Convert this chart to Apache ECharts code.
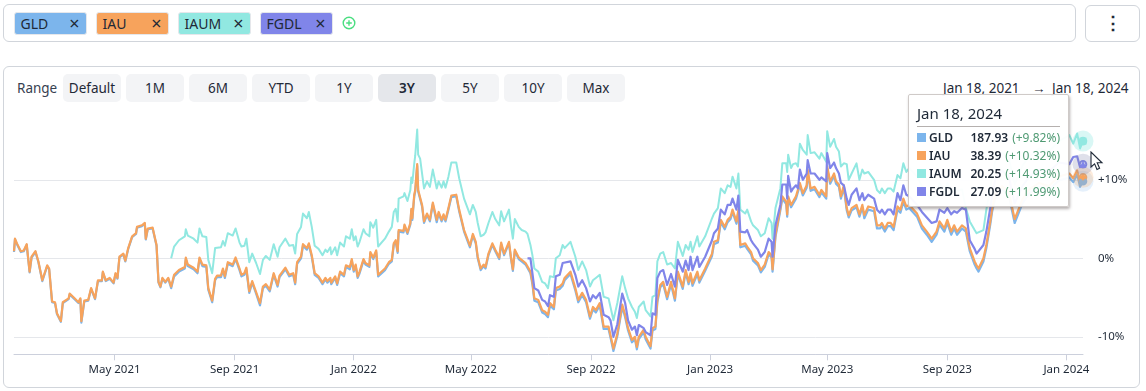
<!DOCTYPE html>
<html>
<head>
<meta charset="utf-8">
<script src="https://cdn.jsdelivr.net/npm/echarts@6/dist/echarts.min.js"></script>
<style>
  html, body { margin: 0; padding: 0; background: #fff; width: 1146px; height: 391px; overflow: hidden; }
  body { font-family: "Noto Sans", sans-serif; color: #1f2937; position: relative; }
  .box { position: absolute; box-sizing: border-box; border: 1px solid #d1d5db; border-radius: 6px; background: #fff; }
  .tag { position: absolute; top: 12px; width: 73px; height: 23px; box-sizing: border-box; border-radius: 3px; font-size: 14px; line-height: 22px; padding-left: 6px; color: #1f2937; border: 1px solid #e5e7eb; }
  .tag span { position: absolute; right: 6px; top: 0; font-size: 18px; line-height: 21px; }
  .btn { position: absolute; top: 74px; width: 58px; height: 28px; border-radius: 5px; background: #f3f4f6; font-size: 13.5px; line-height: 28px; text-align: center; color: #1f2937; }
  .btn.on { background: #e5e7eb; font-weight: 600; }
  #range { position: absolute; left: 17px; top: 79px; font-size: 13.5px; color: #374151; line-height: 18px; }
  .rangeDate { position: absolute; top: 79px; font-size: 13.5px; line-height: 18px; color: #1f2937; white-space: nowrap; }
  #main { position: absolute; left: 0; top: 0; width: 1146px; height: 391px; }
  #cursor { position: absolute; left: 1090px; top: 151px; z-index: 5; }
</style>
</head>
<body>
<div class="box" style="left:3px;top:4px;width:1073px;height:38px;"></div>
<div class="box" style="left:1085px;top:5px;width:55px;height:37px;text-align:center;font-size:18px;line-height:33px;font-weight:700;">⋮</div>
<div class="box" style="left:3px;top:66px;width:1137px;height:322px;"></div>
<div id="tags"></div>
<svg style="position:absolute;left:342px;top:16px;" width="14" height="14" viewBox="0 0 14 14">
  <circle cx="7" cy="7" r="5.8" fill="none" stroke="#4ade80" stroke-width="1.4"/>
  <path d="M7 4.2V9.8M4.2 7H9.8" stroke="#4ade80" stroke-width="1.4"/>
</svg>
<div id="range">Range</div>
<div id="buttons"></div>
<div class="rangeDate" style="left:943px;">Jan 18, 2021</div>
<div class="rangeDate" style="left:1032px;">→</div>
<div class="rangeDate" style="left:1052px;">Jan 18, 2024</div>
<div id="main"></div>
<svg id="cursor" width="14" height="20" viewBox="0 0 14 20">
  <path d="M1 1V16L4.6 12.8L7 18.4L9.6 17.2L7.2 11.8H12Z" fill="#fff" stroke="#1f2937" stroke-width="1.1"/>
</svg>
<script>
var tickers = ["GLD", "IAU", "IAUM", "FGDL"];
var colors = ["#7cb5ec", "#f7a35c", "#91e8e1", "#8085e9"];
var lastPrices = ["187.93", "38.39", "20.25", "27.09"];
var lastChanges = ["+9.82%", "+10.32%", "+14.93%", "+11.99%"];
var rangeButtons = ["Default", "1M", "6M", "YTD", "1Y", "3Y", "5Y", "10Y", "Max"];
var activeRange = "3Y";

var startDate = "2021-01-18";
var xTickDates = ["2021-05-01", "2021-09-01", "2022-01-01", "2022-05-01", "2022-09-01", "2023-01-01", "2023-05-01", "2023-09-01", "2024-01-01"];
var xTickLabels = ["May 2021", "Sep 2021", "Jan 2022", "May 2022", "Sep 2022", "Jan 2023", "May 2023", "Sep 2023", "Jan 2024"];
var yTicks = [-10, 0, 10];

// days after startDate for each reading
var days = [
  0,1,3,7,10,13,16,18,22,25,
  29,34,36,39,42,44,48,50,56,57,
  62,66,68,69,72,76,79,83,86,90,
  91,94,98,102,104,106,108,112,114,117,
  121,125,126,131,134,135,137,139,142,146,
  148,150,152,155,158,161,164,169,175,176,
  178,184,188,190,193,197,199,203,206,208,
  212,214,216,219,224,227,231,233,236,238,
  241,244,248,252,255,258,262,266,270,272,
  278,282,286,288,290,294,296,298,300,302,
  305,308,312,316,319,321,324,325,329,331,
  334,338,340,344,346,348,350,352,354,358,
  360,364,365,368,371,373,375,380,384,387,
  389,391,393,394,399,400,403,406,407,408,
  410,411,413,414,416,418,420,423,426,429,
  433,435,438,440,442,445,448,453,456,461,
  463,467,470,473,475,478,481,483,486,490,
  493,497,499,502,507,509,511,513,517,520,
  524,526,529,531,533,537,541,544,547,549,
  553,555,559,562,564,570,575,578,582,586,
  590,593,596,600,604,609,611,614,618,623,
  626,629,633,636,638,640,645,647,652,654,
  657,659,662,665,669,673,677,680,685,688,
  691,693,695,700,702,708,715,717,721,724,
  728,731,734,736,740,742,744,749,751,755,
  757,762,765,769,773,776,777,780,785,787,
  791,792,793,796,798,801,803,805,808,812,
  813,816,820,825,827,832,833,836,838,840,
  842,845,847,850,853,855,858,863,866,869,
  871,875,877,881,884,887,889,892,895,898,
  901,905,908,911,914,917,925,930,935,940,
  945,948,953,956,960,963,966,971,975,979,
  984,986,988,993,996,1000,1002,1005,1012,1019,
  1025,1033,1040,1050,1060,1070,1081,1085,1089,1092,
  1095
];

var gld = [
  0.8,2.4,1.8,0.8,0.9,1.7,-1.8,0.1,0.8,-0.5,
  -2.9,-1.0,-1.4,-5.6,-5.7,-7.1,-8.1,-5.7,-5.2,-4.6,
  -5.2,-5.7,-5.2,-8.2,-5.5,-5.4,-3.9,-5.2,-2.9,-2.9,
  -1.8,-2.9,-2.6,-3.2,-2.0,-2.6,0.1,0.5,-0.4,1.2,
  2.7,3.1,3.9,4.1,4.4,2.4,3.7,3.5,3.8,1.6,
  -3.1,-3.7,-2.6,-3.1,-2.6,-3.8,-2.3,-1.7,-1.3,-0.1,
  -1.0,-1.4,-1.9,-0.1,-1.0,-1.1,-4.0,-5.6,-2.8,-2.4,
  -2.4,-1.5,-2.5,-0.7,-1.0,-0.1,-1.5,-2.3,-2.1,-1.4,
  -4.4,-3.1,-4.5,-6.0,-3.8,-3.5,-4.2,-2.1,-3.6,-2.4,
  -1.4,-2.3,-2.1,-3.3,-0.7,0,1.6,1.8,1.1,1.7,
  0.2,-2.1,-2.5,-3.3,-2.7,-3.1,-2.7,-3.3,-2.5,-3.4,
  -1.9,-2.3,-1.1,-1.4,-0.3,-1.7,-1.0,-2.5,-1.9,-0.3,
  -0.8,-1.1,0.6,-0.1,0.8,-2.3,-2.4,-1.5,-0.7,-0.4,
  1.7,2.1,0.7,3.4,3.3,4.1,3.1,4.3,6.1,4.9,
  7.9,8.5,11.8,8.5,8.3,6.6,4.5,5.5,4.7,6.9,
  4.6,5.7,4.7,5.3,4.7,6.2,7.8,7.9,6.0,3.4,
  3.3,1.4,2.9,1.9,0,-1.5,-1.0,-1.3,0.4,1.7,
  0.9,-0.1,1.8,0.4,1.9,0,-1.6,0.9,-0.1,-0.4,
  -0.8,-1.0,-1.9,-3.3,-5.4,-5.6,-6.9,-7.1,-7.5,-6.0,
  -6.5,-4.1,-3.9,-3.5,-2.8,-2.0,-4.1,-5.6,-4.7,-5.6,
  -7.7,-6.5,-6.9,-6.0,-9.0,-9.0,-10.1,-11.8,-9.9,-6.2,
  -7.5,-9.2,-10.7,-10.3,-11.6,-10.3,-9.4,-10.3,-11.5,-9.2,
  -9.0,-5.6,-3.7,-3.3,-5.2,-3.3,-5.4,-2.0,-3.9,-1.8,
  -3.3,-2.2,-3.5,-2.0,-3.1,-1.6,0.3,1.8,2.0,4.6,
  3.7,4.6,5.0,5.9,4.4,5.9,1.4,1.6,1.2,0.5,
  -0.3,-0.9,-1.8,-1.1,0.5,0.1,-1.7,2.7,6.1,7.6,
  6.9,5.3,7.6,6.5,6.5,7.6,7.6,9.3,8.0,9.0,
  11.0,8.6,8.8,7.8,8.4,7.6,11.4,9.5,9.7,10.5,
  9.5,9.1,7.6,9.0,6.1,5.2,6.1,6.5,5.3,6.5,
  5.1,6.2,6.2,6.0,3.8,3.8,4.1,3.4,4.1,4.1,
  3.6,6.2,5.8,7.2,6.2,6.4,5.3,3.8,3.0,2.1,
  3.0,4.3,3.4,4.5,3.0,3.8,3.0,3.8,3.4,0.9,
  -0.8,-1.3,-1.7,-0.4,1.3,4.3,6.0,7.6,8.8,8.0,
  4.5,7.0,8.3,9.1,8.7,9.9,10.3,9.7,10.7,9.1,
  9.82
];

var iau = [
  0.9,2.5,1.9,0.9,1.0,1.8,-1.7,0.2,0.9,-0.4,
  -2.8,-0.9,-1.3,-5.5,-5.6,-7.0,-8.0,-5.6,-5.1,-4.5,
  -5.1,-5.6,-5.1,-8.0,-5.4,-5.3,-3.8,-5.1,-2.8,-2.8,
  -1.7,-2.8,-2.5,-3.1,-1.9,-2.5,0.2,0.6,-0.3,1.3,
  2.8,3.2,4.0,4.2,4.5,2.5,3.8,3.6,3.9,1.7,
  -3.0,-3.6,-2.5,-3.0,-2.5,-3.6,-2.1,-1.5,-1.1,0.1,
  -0.8,-1.2,-1.7,0.1,-0.8,-0.9,-3.8,-5.4,-2.6,-2.2,
  -2.2,-1.3,-2.3,-0.5,-0.8,0.1,-1.3,-2.1,-1.9,-1.2,
  -4.2,-2.9,-4.3,-5.7,-3.6,-3.3,-4.0,-1.9,-3.4,-2.2,
  -1.2,-2.1,-1.9,-3.1,-0.5,0.2,1.8,2.0,1.3,1.9,
  0.4,-1.9,-2.3,-3.1,-2.5,-2.9,-2.5,-3.1,-2.3,-3.2,
  -1.7,-2.1,-0.9,-1.1,-0.1,-1.5,-0.8,-2.3,-1.7,-0.1,
  -0.6,-0.9,0.8,0.1,1.0,-2.1,-2.2,-1.3,-0.5,-0.2,
  1.9,2.3,0.9,3.6,3.5,4.3,3.3,4.5,6.3,5.1,
  8.1,8.7,12.0,8.7,8.5,6.8,4.7,5.7,4.9,7.1,
  4.9,5.9,4.9,5.6,4.9,6.4,8.0,8.1,6.2,3.6,
  3.5,1.6,3.1,2.1,0.2,-1.3,-0.8,-1.1,0.6,1.9,
  1.1,0.1,2.0,0.6,2.1,0.2,-1.4,1.1,0.1,-0.2,
  -0.6,-0.8,-1.7,-3.0,-5.1,-5.3,-6.6,-6.8,-7.2,-5.7,
  -6.2,-3.8,-3.6,-3.2,-2.5,-1.7,-3.8,-5.3,-4.4,-5.3,
  -7.4,-6.2,-6.6,-5.7,-8.7,-8.7,-9.8,-11.5,-9.6,-5.9,
  -7.2,-8.9,-10.4,-10.0,-11.3,-10.0,-9.1,-10.0,-11.2,-8.9,
  -8.7,-5.3,-3.4,-3.0,-4.9,-3.0,-5.1,-1.7,-3.6,-1.5,
  -3.0,-1.9,-3.2,-1.7,-2.8,-1.3,0.6,2.1,2.3,4.9,
  4.0,4.9,5.3,6.2,4.7,6.2,1.7,1.9,1.5,0.8,
  0,-0.6,-1.5,-0.8,0.8,0.4,-1.4,3.0,6.4,7.9,
  7.2,5.6,7.9,6.8,6.8,7.9,7.9,9.6,8.3,9.3,
  11.3,8.9,9.1,8.1,8.7,7.9,11.7,9.8,10.0,10.8,
  9.8,9.4,7.9,9.3,6.4,5.5,6.4,6.8,5.6,6.8,
  5.5,6.6,6.6,6.4,4.2,4.2,4.5,3.8,4.5,4.5,
  4.0,6.6,6.2,7.6,6.6,6.8,5.7,4.2,3.4,2.5,
  3.4,4.7,3.8,4.9,3.4,4.2,3.4,4.2,3.8,1.3,
  -0.4,-0.9,-1.3,0,1.7,4.7,6.4,8.0,9.2,8.4,
  5.0,7.5,8.8,9.6,9.2,10.4,10.8,10.2,11.2,9.6,
  10.32
];

var iaum = [
  null,null,null,null,null,null,null,null,null,null,
  null,null,null,null,null,null,null,null,null,null,
  null,null,null,null,null,null,null,null,null,null,
  null,null,null,null,null,null,null,null,null,null,
  null,null,null,null,null,null,null,null,null,null,
  null,null,null,null,null,0,1.5,2.3,2.8,3.7,
  2.9,2.5,2.0,3.8,2.8,2.7,-0.2,-1.9,1.3,1.5,
  1.4,2.2,1.6,3.2,2.9,3.8,2.0,1.5,1.6,2.5,
  -0.5,0.6,-0.6,-2.0,-0.2,0.3,-0.2,1.8,0.2,1.4,
  2.5,1.6,1.7,0.6,3.1,4.0,5.7,5.9,5.1,5.9,
  4.0,1.6,1.2,0.4,1.1,0.8,1.4,0.5,1.4,0.4,
  2.0,1.5,2.8,2.5,3.7,2.3,2.8,1.5,2.1,3.7,
  3.2,2.8,4.6,3.9,4.9,1.5,1.6,2.5,3.4,4.0,
  5.9,6.3,4.7,7.6,7.9,8.3,7.3,8.7,10.3,9.6,
  12.1,13.1,16.4,13.2,12.7,10.8,8.9,9.8,9.1,11.3,
  8.9,9.8,9.0,9.8,9.0,10.4,12.2,12.2,10.2,7.6,
  7.4,5.6,6.8,5.9,4.5,2.8,3.0,3.3,4.5,5.9,
  5.0,4.2,6.0,4.7,6.2,4.2,2.5,5.0,4.0,3.6,
  3.4,3.1,1.7,0.4,-1.3,-1.7,-3.0,-3.2,-3.8,-2.3,
  -2.4,0,0.4,1.7,1.3,2.1,0.2,-1.5,-0.4,-1.5,
  -3.6,-2.8,-2.5,-2.1,-4.9,-5.1,-6.2,-7.9,-5.7,-2.3,
  -3.8,-5.1,-6.2,-6.8,-7.6,-6.2,-5.5,-6.6,-7.4,-4.9,
  -4.7,-0.4,0.6,0.8,-0.8,-0.6,-1.3,2.1,0.3,1.7,
  1.1,2.1,0.8,2.8,1.5,2.8,5.1,5.7,6.4,8.9,
  8.3,9.3,9.1,10.4,8.9,10.8,6.2,5.7,6.2,4.7,
  4.2,3.6,2.8,3.2,5.1,4.5,2.5,6.4,8.9,12.1,
  12.1,11.0,13.2,11.5,12.0,12.1,11.7,14.6,13.8,13.2,
  15.7,13.4,13.5,12.7,13.4,12.3,16.2,14.2,14.2,15.2,
  14.2,13.6,11.7,12.1,12.0,10.0,10.8,12.1,10.0,11.3,
  10.8,11.0,10.8,10.0,8.7,8.3,8.9,8.3,8.9,8.9,
  8.5,10.6,10.2,12.1,11.0,11.5,10.4,9.2,8.2,7.4,
  8.2,9.6,8.6,9.6,8.4,9.0,8.5,8.8,6.4,4.7,
  3.6,3.2,3.0,3.6,6.2,9.0,10.4,12.3,13.5,12.8,
  9.4,11.8,13.0,14.0,13.6,14.9,15.7,14.6,15.9,14.0,
  14.93
];

var fgdl = [
  null,null,null,null,null,null,null,null,null,null,
  null,null,null,null,null,null,null,null,null,null,
  null,null,null,null,null,null,null,null,null,null,
  null,null,null,null,null,null,null,null,null,null,
  null,null,null,null,null,null,null,null,null,null,
  null,null,null,null,null,null,null,null,null,null,
  null,null,null,null,null,null,null,null,null,null,
  null,null,null,null,null,null,null,null,null,null,
  null,null,null,null,null,null,null,null,null,null,
  null,null,null,null,null,null,null,null,null,null,
  null,null,null,null,null,null,null,null,null,null,
  null,null,null,null,null,null,null,null,null,null,
  null,null,null,null,null,null,null,null,null,null,
  null,null,null,null,null,null,null,null,null,null,
  null,null,null,null,null,null,null,null,null,null,
  null,null,null,null,null,null,null,null,null,null,
  null,null,null,null,null,null,null,null,null,null,
  null,null,null,null,null,null,null,null,null,null,
  null,0,0,-1.9,-3.8,-4.1,-5.3,-5.5,-6.1,-4.7,
  -4.9,-2.3,-2.1,-0.6,-0.6,-0.4,-2.1,-3.6,-2.8,-3.8,
  -5.5,-4.7,-5.1,-4.4,-7.2,-7.5,-7.9,-10.0,-8.4,-4.5,
  -5.7,-7.9,-9.1,-8.7,-9.8,-8.5,-8.9,-9.4,-9.8,-7.0,
  -7.2,-2.5,-1.7,-1.5,-3.4,-2.0,-3.6,-0.2,-1.7,-0.3,
  -1.5,0.2,-1.5,0.2,-1.1,0.2,2.3,3.2,3.8,6.2,
  5.6,6.8,6.8,7.6,6.2,8.0,3.4,3.3,3.6,2.3,
  1.9,1.1,0.2,0.8,2.5,2.1,0.2,4.2,6.8,9.4,
  9.4,7.6,10.5,8.5,8.9,9.3,8.9,11.3,10.0,10.8,
  12.5,10.8,10.8,10.0,10.3,9.8,13.4,11.5,11.5,12.2,
  11.5,10.8,9.6,9.3,7.6,6.8,8.1,8.9,7.4,8.3,
  7.4,8.1,8.3,7.6,6.2,5.8,6.2,5.6,6.2,6.2,
  5.6,8.3,7.4,9.3,8.1,7.9,6.8,5.9,5.2,4.5,
  4.7,6.2,5.8,6.4,5.6,6.0,5.8,6.4,6.2,2.3,
  1.2,0.6,0.8,1.7,3.4,6.4,8.0,10.0,11.2,10.4,
  7.0,9.2,10.4,11.3,11.0,12.2,12.0,12.9,13.0,11.6,
  11.99
];

// page chrome above the chart
var tagsHtml = "";
tickers.forEach(function(t, i) {
  tagsHtml += '<div class="tag" style="left:' + (13.5 + i * 82) + 'px;background:' + colors[i] + ';">' + t + "<span>×</span></div>";
});
document.getElementById("tags").innerHTML = tagsHtml;

var buttonsHtml = "";
rangeButtons.forEach(function(b, i) {
  buttonsHtml += '<div class="btn' + (b === activeRange ? " on" : "") + '" style="left:' + (63 + i * 63) + 'px;">' + b + "</div>";
});
document.getElementById("buttons").innerHTML = buttonsHtml;

var dayMs = 86400000;
var startMs = Date.parse(startDate + "T00:00:00Z");
var xTickValues = xTickDates.map(function(d) { return Date.parse(d + "T00:00:00Z"); });
var seriesValues = [gld, iau, iaum, fgdl];
var widths = [2.2, 2.2, 2, 2.2];
var endSymbols = ["circle", "diamond", "rect", "triangle"];
var haloColors = ["rgba(124,181,236,0.2)", "rgba(247,163,92,0.22)", "rgba(145,232,225,0.35)", "rgba(128,133,170,0.25)"];

var series = seriesValues.map(function(values, i) {
  var last = values.length - 1;
  var endCoord = [startMs + days[last] * dayMs, values[last]];
  return {
    name: tickers[i],
    type: "line",
    showSymbol: false,
    connectNulls: false,
    lineStyle: { color: colors[i], width: widths[i], join: "round" },
    itemStyle: { color: colors[i] },
    emphasis: { disabled: true },
    data: values.map(function(v, j) {
      return [startMs + days[j] * dayMs, v];
    }),
    markPoint: {
      animation: false,
      silent: true,
      label: { show: false },
      data: [
        { coord: endCoord, symbol: "circle", symbolSize: 21, itemStyle: { color: haloColors[i] } },
        { coord: endCoord, symbol: endSymbols[i], symbolSize: 7, itemStyle: { color: colors[i] } }
      ]
    }
  };
});

function tooltipHtml() {
  var html = '<div style="font-size:15px;line-height:20px;color:#1f2937;padding-bottom:3px;border-bottom:1px solid #b5b0ae;margin-bottom:1px;">Jan 18, 2024</div>';
  tickers.forEach(function(t, i) {
    html += '<div style="display:flex;align-items:center;height:18px;font-size:12px;color:#1f2937;font-weight:600;">' +
      '<i style="width:9px;height:9px;margin-right:3px;background:' + colors[i] + ';"></i>' + t +
      '<span style="margin-left:auto;">' + lastPrices[i] + "</span>" +
      '<span style="margin-left:4px;font-weight:400;color:#4f9a73;">(' + lastChanges[i] + ")</span></div>";
  });
  return html;
}

var option = {
  animation: false,
  grid: { left: 14, right: 63, top: 117, bottom: 36.7 },
  tooltip: {
    trigger: "axis",
    alwaysShowContent: true,
    showDelay: 0,
    transitionDuration: 0,
    position: [908, 94],
    axisPointer: { type: "none" },
    padding: [8, 8, 6, 8],
    backgroundColor: "rgba(255,255,255,0.96)",
    borderColor: "#cfcac8",
    borderWidth: 1,
    borderRadius: 2,
    extraCssText: "width:143px;font-family:'Noto Sans',sans-serif;box-shadow:1px 2px 3px rgba(90,80,80,0.45);",
    formatter: tooltipHtml
  },
  xAxis: {
    type: "value",
    min: startMs,
    max: startMs + 1095 * dayMs,
    axisLine: { onZero: false, lineStyle: { color: "#ccd0dc", width: 1 } },
    axisTick: {
      show: true,
      length: 6,
      lineStyle: { color: "#ccd0dc" },
      customValues: xTickValues
    },
    splitLine: { show: false },
    axisLabel: {
      color: "#1f2937",
      fontFamily: "Noto Sans",
      fontSize: 11.5,
      margin: 9,
      hideOverlap: false,
      customValues: xTickValues,
      formatter: function(value) {
        return xTickLabels[xTickValues.indexOf(value)];
      }
    }
  },
  yAxis: {
    type: "value",
    position: "right",
    min: -12.23,
    max: 18,
    axisLine: { show: false },
    axisTick: { show: false, customValues: yTicks },
    splitLine: { show: true, lineStyle: { color: "#e5e7eb", width: 1 } },
    axisLabel: {
      color: "#1f2937",
      fontFamily: "Noto Sans",
      fontSize: 11.5,
      margin: 15,
      customValues: yTicks,
      formatter: function(v) {
        return (v > 0 ? "+" : "") + v + "%";
      }
    }
  },
  series: series
};

var myChart = echarts.init(document.getElementById("main"), null, { renderer: "canvas" });
myChart.setOption(option);
myChart.dispatchAction({ type: "showTip", seriesIndex: 0, dataIndex: days.length - 1 });
</script>
</body>
</html>
